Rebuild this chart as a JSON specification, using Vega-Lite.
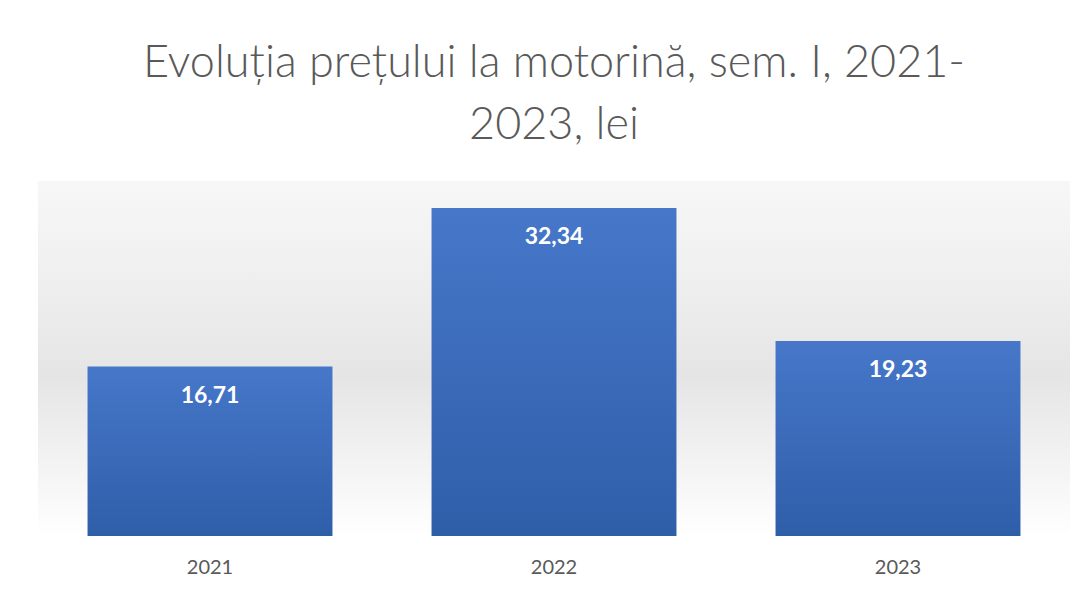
{
  "$schema": "https://vega.github.io/schema/vega-lite/v6.json",
  "width": 1032,
  "height": 355,
  "autosize": {"type": "none"},
  "padding": {"left": 38, "top": 181, "right": 16, "bottom": 54},
  "background": "#ffffff",
  "config": {
    "locale": {"number": {"decimal": ",", "thousands": ".", "grouping": [3], "currency": ["", " lei"]}},
    "view": {
      "stroke": null,
      "fill": {"gradient": "linear", "x1": 0, "y1": 0, "x2": 0, "y2": 1,
        "stops": [{"offset": 0, "color": "#f7f7f7"}, {"offset": 0.25, "color": "#f0f0f0"}, {"offset": 0.55, "color": "#e5e5e5"}, {"offset": 0.85, "color": "#f6f6f6"}, {"offset": 1, "color": "#ffffff"}]}
    }
  },
  "title": {
    "text": ["Evoluția prețului la motorină, sem. I, 2021-", "2023, lei"],
    "font": "Lato",
    "fontSize": 45,
    "fontWeight": 300,
    "color": "#595959",
    "lineHeight": 62,
    "anchor": "middle",
    "offset": 33
  },
  "data": {"values": [
    {"an": "2021", "pret": 16.71},
    {"an": "2022", "pret": 32.34},
    {"an": "2023", "pret": 19.23}
  ]},
  "encoding": {
    "x": {"field": "an", "type": "nominal", "title": null,
      "scale": {"paddingInner": 0.288, "paddingOuter": 0.144},
      "axis": {"labelAngle": 0, "domain": false, "ticks": false, "labelFont": "Lato", "labelFontSize": 20, "labelColor": "#595959", "labelPadding": 21}},
    "y": {"field": "pret", "type": "quantitative", "title": null,
      "scale": {"domain": [0, 35], "nice": false},
      "axis": null}
  },
  "layer": [
    {"mark": {"type": "bar",
      "color": {"gradient": "linear", "x1": 0, "y1": 0, "x2": 0, "y2": 1,
        "stops": [{"offset": 0, "color": "#4677c9"}, {"offset": 1, "color": "#2f5ea9"}]}}},
    {"mark": {"type": "text", "baseline": "middle", "dy": 29, "font": "Lato", "fontSize": 23, "fontWeight": "bold", "color": "#ffffff"},
      "encoding": {"text": {"field": "pret", "type": "quantitative", "format": ".2f"}}}
  ]
}
